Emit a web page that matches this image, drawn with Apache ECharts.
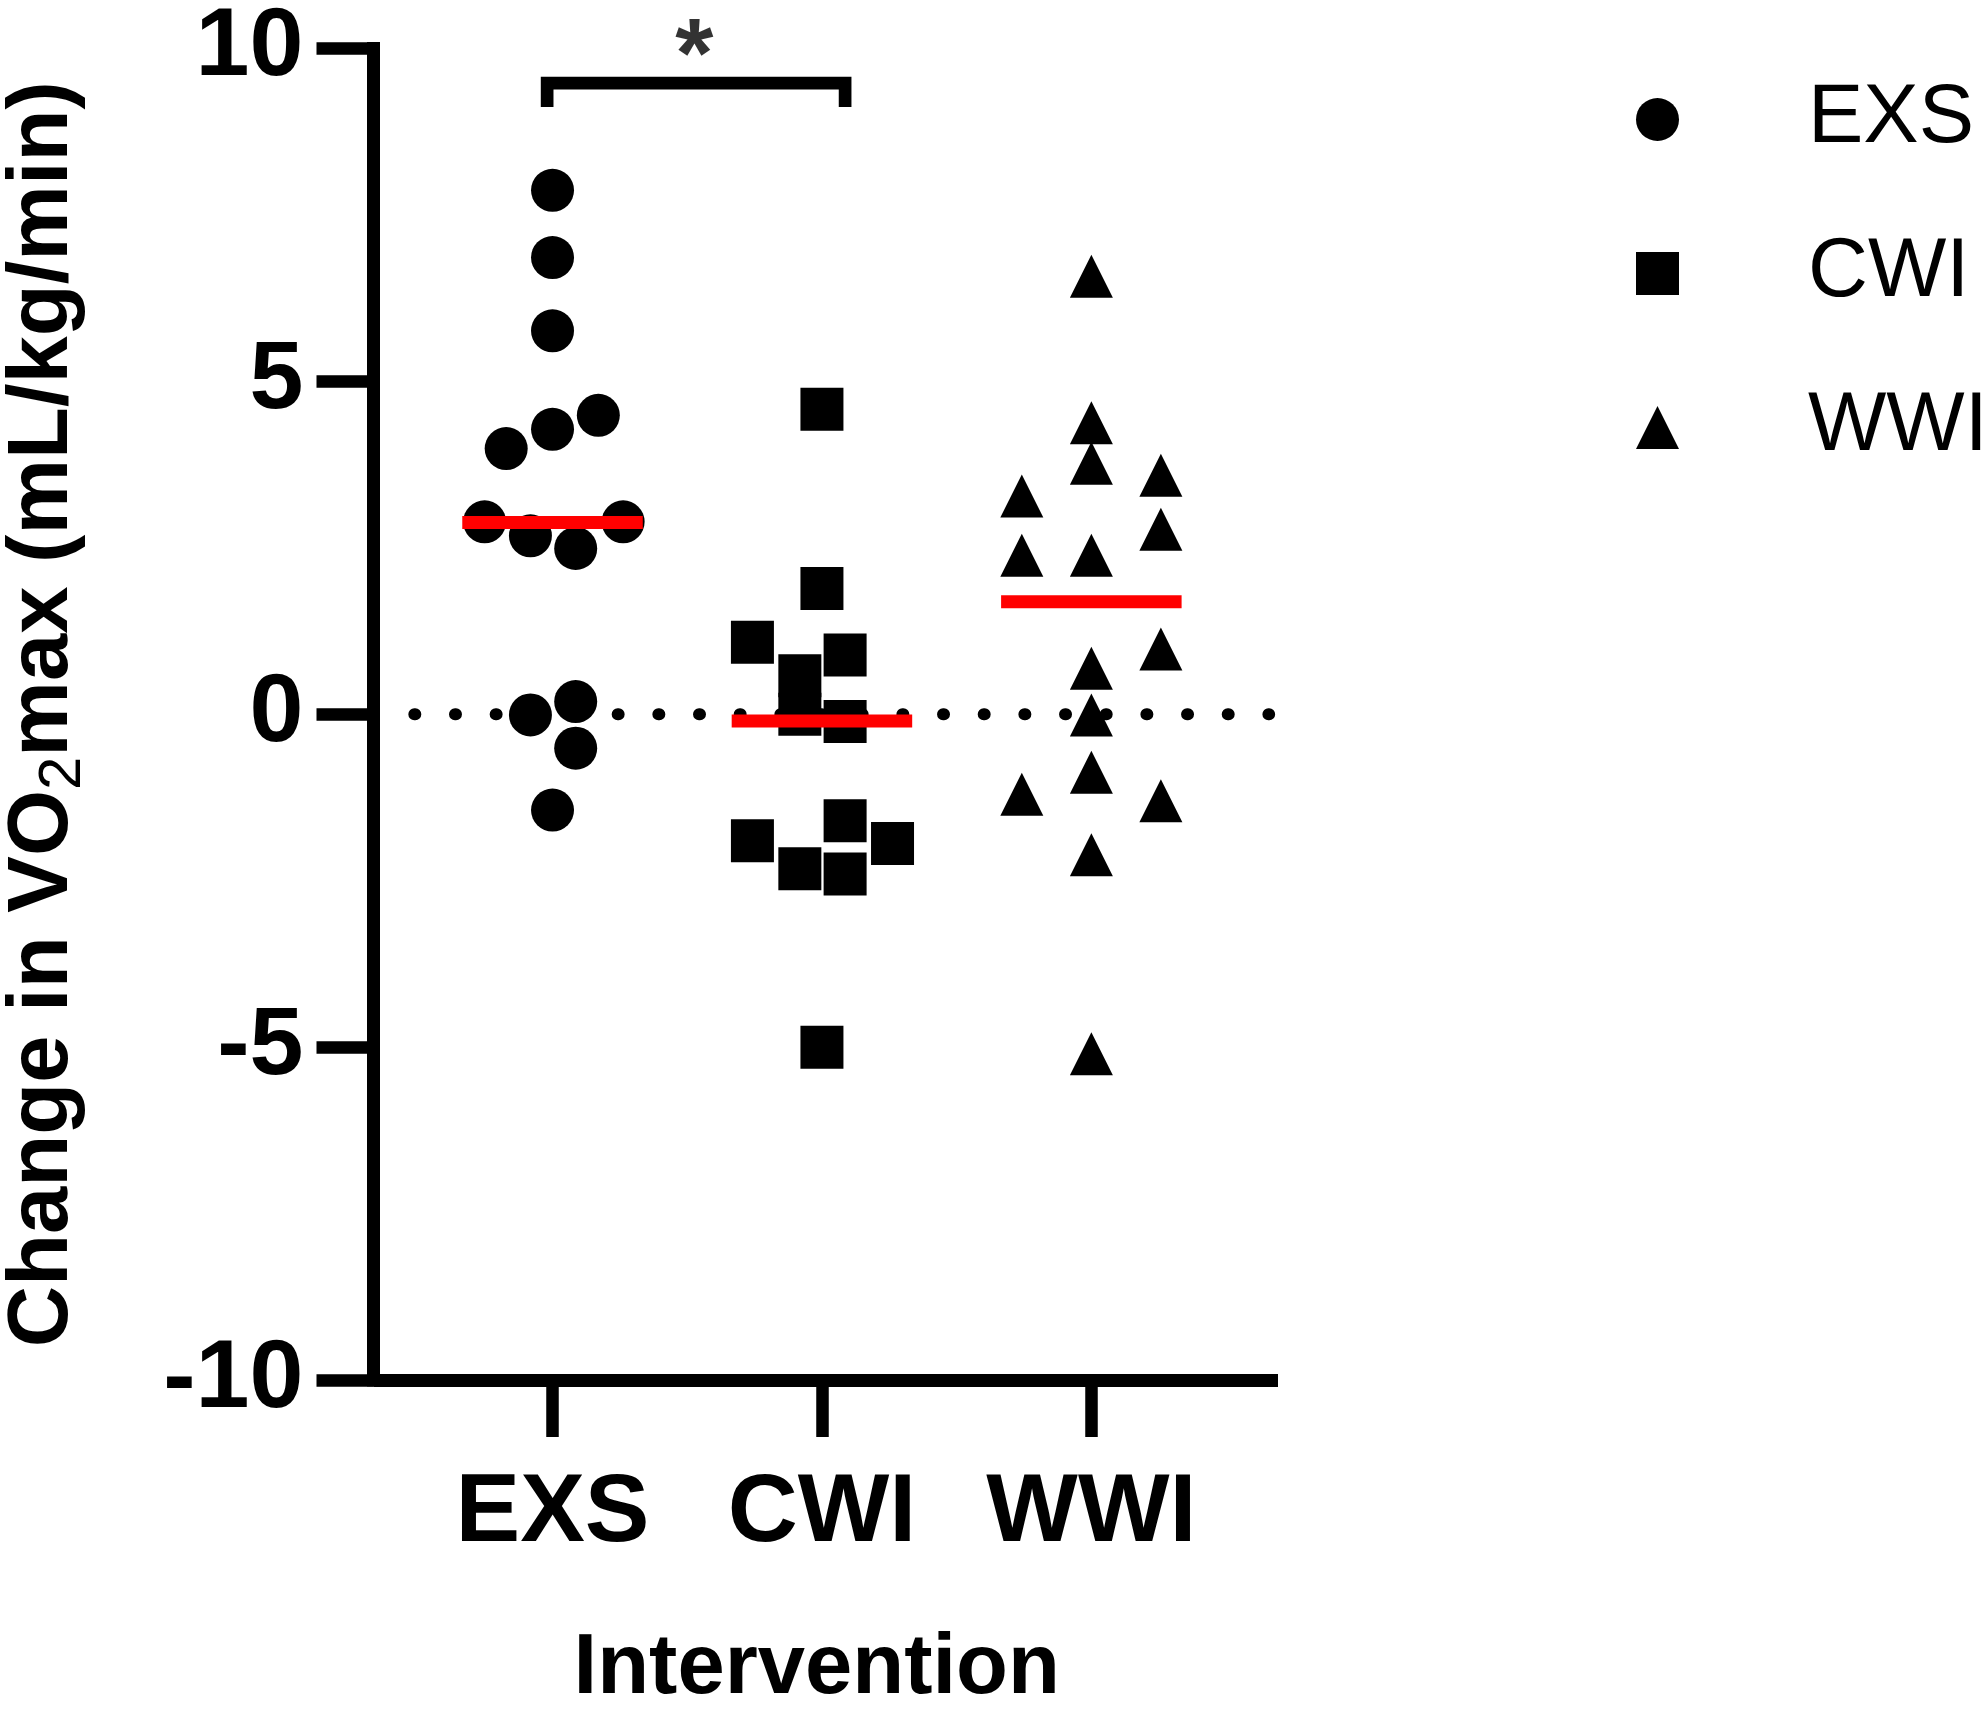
<!DOCTYPE html>
<html>
<head>
<meta charset="utf-8">
<script src="https://cdn.jsdelivr.net/npm/echarts@6/dist/echarts.min.js"></script>
<style>
html,body{margin:0;padding:0;background:#ffffff;}
#chart{width:1983px;height:1717px;}
</style>
</head>
<body>
<div id="chart"></div>
<script>
// ---- data ----
const categories = ['EXS', 'CWI', 'WWI'];
const categoryPositions = [1, 2, 3];
const yTicks = [-10, -5, 0, 5, 10];

const exsValues  = [7.87, 6.86, 5.76, 3.99, 4.28, 4.49, 2.89, 2.68, 2.49, 2.89, -0.01, 0.19, -0.51, -1.44];
const exsOffsets = [0, 0, 0, -0.172, 0, 0.170, -0.252, -0.082, 0.086, 0.262, -0.082, 0.086, 0.086, 0];

const cwiValues  = [4.58, 1.89, 1.08, 0.89, 0.58, 0.00, -0.11, -1.60, -1.90, -1.94, -2.32, -2.40, -5.00];
const cwiOffsets = [0, 0, -0.258, 0.086, -0.082, -0.082, 0.086, 0.086, -0.258, 0.262, -0.082, 0.086, 0];

const wwiValues  = [6.58, 4.38, 3.77, 3.59, 3.28, 2.78, 2.39, 2.39, 0.98, 0.69, -0.01, -0.87, -1.20, -1.30, -2.11, -5.10];
const wwiOffsets = [0, 0, 0, 0.258, -0.258, 0.258, -0.258, 0, 0.258, 0, 0, 0, -0.258, 0.258, 0, 0];

const medians = [2.88, -0.10, 1.69];
const medianHalfWidth = 0.335;

const zeroLineX = [0.487, 3.66];
const bracketX = [0.98, 0.98, 2.086, 2.086];
const bracketY = [9.12, 9.48, 9.48, 9.12];
const starPoint = [1.526, 9.83];

// ---- chart ----
const FONT = "'Liberation Sans', Arial, Helvetica, sans-serif";
const chart = echarts.init(document.getElementById('chart'), null, {renderer: 'canvas'});

function points(values, offsets, center) {
  return values.map((v, i) => [center + offsets[i], v]);
}

const groupSeries = [
  {name: 'EXS', symbol: 'circle', values: exsValues, offsets: exsOffsets},
  {name: 'CWI', symbol: 'rect', values: cwiValues, offsets: cwiOffsets},
  {name: 'WWI', symbol: 'triangle', values: wwiValues, offsets: wwiOffsets}
].map((g, i) => ({
  name: g.name,
  type: 'scatter',
  symbol: g.symbol,
  symbolSize: 43,
  data: points(g.values, g.offsets, categoryPositions[i]),
  itemStyle: {color: '#000000', opacity: 1},
  z: 3,
  silent: true
}));

const medianSeries = categoryPositions.map((c, i) => ({
  type: 'line',
  data: [[c - medianHalfWidth, medians[i]], [c + medianHalfWidth, medians[i]]],
  symbol: 'none',
  lineStyle: {color: '#ff0000', width: 13, cap: 'butt'},
  z: 5,
  silent: true
}));

const option = {
  animation: false,
  backgroundColor: '#ffffff',
  grid: {left: 367, right: 705, top: 40.5, bottom: 319.5, containLabel: false},
  legend: {
    orient: 'vertical',
    left: 1636,
    top: 78,
    padding: 0,
    itemWidth: 43,
    itemHeight: 43,
    itemGap: 71,
    selectedMode: false,
    data: [
      {name: 'EXS', icon: 'circle'},
      {name: 'CWI', icon: 'rect'},
      {name: 'WWI', icon: 'triangle'}
    ],
    textStyle: {fontSize: 83, lineHeight: 83, color: '#000000', fontFamily: FONT, padding: [0, 0, 0, 124]}
  },
  xAxis: {
    type: 'value',
    min: 0.3355,
    max: 3.6928,
    axisLine: {show: true, onZero: false, lineStyle: {color: '#000000', width: 13, cap: 'butt'}},
    axisTick: {show: true, customValues: categoryPositions, length: 57, lineStyle: {color: '#000000', width: 12.5}},
    axisLabel: {
      show: true,
      customValues: categoryPositions,
      formatter: v => categories[Math.round(v) - 1],
      margin: 86,
      fontSize: 97,
      fontWeight: 'bold',
      color: '#000000',
      fontFamily: FONT
    },
    splitLine: {show: false},
    name: 'Intervention',
    nameLocation: 'middle',
    nameGap: 247,
    nameTextStyle: {fontSize: 85, fontWeight: 'bold', color: '#000000', fontFamily: FONT, padding: [0, 18, 0, 0]}
  },
  yAxis: {
    type: 'value',
    min: yTicks[0],
    max: yTicks[yTicks.length - 1],
    interval: yTicks[1] - yTicks[0],
    axisLine: {show: true, onZero: false, lineStyle: {color: '#000000', width: 13, cap: 'square'}},
    axisTick: {show: true, length: 57, lineStyle: {color: '#000000', width: 12.5}},
    axisLabel: {margin: 70, fontSize: 97, fontWeight: 'bold', color: '#000000', fontFamily: FONT},
    splitLine: {show: false},
    name: '{a|Change in VO}{s|2}{a|max (mL/kg/min)}',
    nameLocation: 'middle',
    nameRotate: 90,
    nameGap: 280,
    nameTextStyle: {
      rich: {
        a: {fontSize: 85, fontWeight: 'bold', lineHeight: 100, color: '#000000', fontFamily: FONT},
        s: {fontSize: 60, lineHeight: 40, verticalAlign: 'bottom', color: '#000000', fontFamily: FONT}
      }
    }
  },
  series: [
    {
      type: 'line',
      data: zeroLineX.map(x => [x, 0]),
      symbol: 'none',
      lineStyle: {color: '#000000', width: 12, type: [1, 39.67], cap: 'round'},
      z: 1,
      silent: true
    },
    ...groupSeries,
    ...medianSeries,
    {
      type: 'line',
      data: bracketX.map((x, i) => [x, bracketY[i]]),
      symbol: 'none',
      lineStyle: {color: '#000000', width: 12.7, cap: 'butt', join: 'miter'},
      z: 4,
      silent: true
    },
    {
      type: 'scatter',
      data: [starPoint],
      symbolSize: 0.1,
      itemStyle: {color: '#000000'},
      label: {show: true, position: 'inside', formatter: '*', fontSize: 98, fontWeight: 'bold', color: '#000000', fontFamily: FONT},
      z: 4,
      silent: true
    }
  ]
};
chart.setOption(option);
</script>
</body>
</html>
